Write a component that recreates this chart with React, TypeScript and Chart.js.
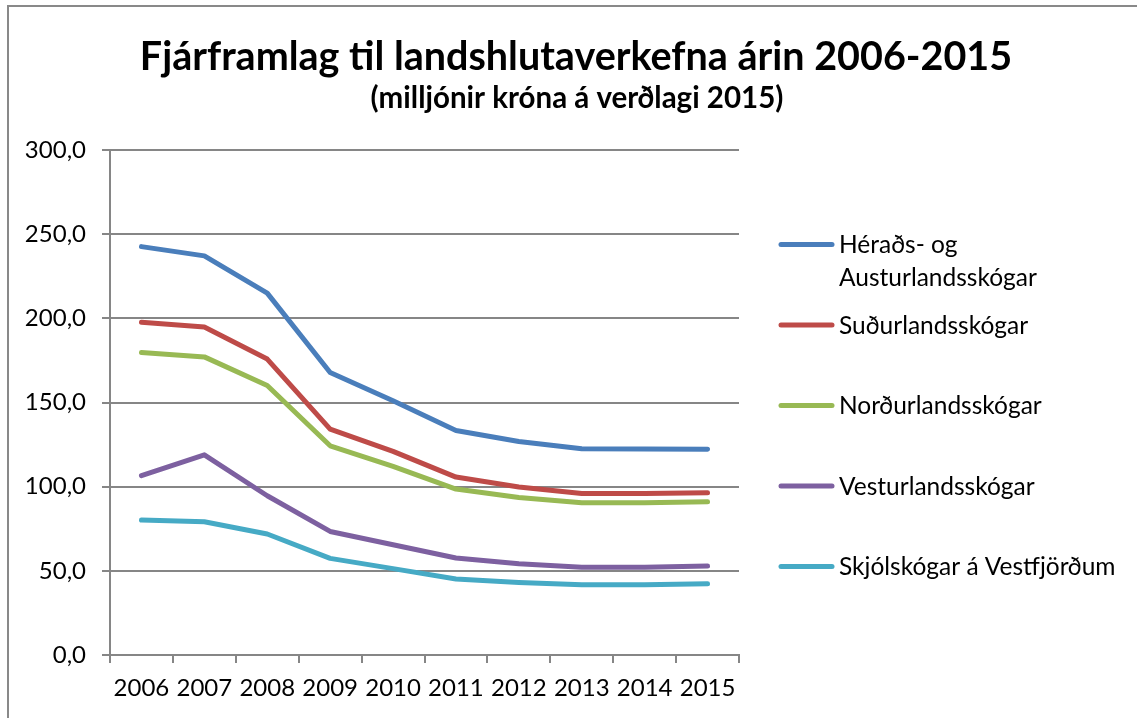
import React, { useEffect, useRef } from "react";
import { Chart, registerables } from "chart.js";

Chart.register(...registerables);

const years = ["2006", "2007", "2008", "2009", "2010", "2011", "2012", "2013", "2014", "2015"];
const heradsAustur = [242.6, 237.1, 215.0, 167.8, 151.0, 133.4, 126.8, 122.5, 122.4, 122.3];
const sudurland = [197.7, 194.8, 175.8, 134.2, 121.0, 105.7, 99.8, 96.0, 96.0, 96.4];
const nordurland = [179.7, 177.1, 160.1, 124.3, 112.0, 98.6, 93.6, 90.4, 90.4, 91.0];
const vesturland = [106.5, 118.9, 94.6, 73.4, 65.5, 57.6, 54.2, 52.2, 52.2, 52.8];
const skjolskogar = [80.2, 79.2, 71.9, 57.4, 51.3, 45.1, 43.1, 41.7, 41.7, 42.3];

const seriesNames = [
  "Héraðs- og\nAusturlandsskógar",
  "Suðurlandsskógar",
  "Norðurlandsskógar",
  "Vesturlandsskógar",
  "Skjólskógar á Vestfjörðum",
];
const seriesColors = ["#4A7EBB", "#BE4B48", "#98B954", "#7D60A0", "#46AAC5"];
const yTickLabels = ["0,0", "50,0", "100,0", "150,0", "200,0", "250,0", "300,0"];

const titleText = "Fjárframlag til landshlutaverkefna árin 2006-2015";
const subtitleText = "(milljónir króna á verðlagi 2015)";

const FONT = "Lato";
const GRID = "#868686";

const overlayPlugin = {
  id: "overlay",
  afterDraw(chart: any) {
    const ctx = chart.ctx;
    ctx.save();
    ctx.fillStyle = "#000";
    ctx.textAlign = "center";
    ctx.textBaseline = "alphabetic";
    ctx.font = `bold 39.5px ${FONT}`;
    ctx.fillText(titleText, 576, 70);
    ctx.font = `bold 29.5px ${FONT}`;
    ctx.fillText(subtitleText, 577, 108);

    // legend
    ctx.textAlign = "left";
    ctx.font = `24.5px ${FONT}`;
    chart.data.datasets.forEach((ds: any, i: number) => {
      const y = 244.5 + i * 80.5;
      ctx.strokeStyle = ds.borderColor;
      ctx.lineWidth = 5;
      ctx.lineCap = "round";
      ctx.beginPath();
      ctx.moveTo(781, y);
      ctx.lineTo(832, y);
      ctx.stroke();
      const lines = seriesNames[i].split("\n");
      lines.forEach((ln, j) => {
        ctx.fillText(ln, 839, y + 8.5 + j * 32.7);
      });
    });
    ctx.restore();
  },
};

export default function App() {
  const ref = useRef<HTMLCanvasElement | null>(null);
  useEffect(() => {
    if (!ref.current) return;
    const seriesValues = [heradsAustur, sudurland, nordurland, vesturland, skjolskogar];
    const chart = new Chart(ref.current, {
      type: "line",
      data: {
        labels: years,
        datasets: seriesValues.map((vals, i) => ({
          label: seriesNames[i].replace("\n", " "),
          data: vals,
          borderColor: seriesColors[i],
          backgroundColor: seriesColors[i],
          borderWidth: 5,
          pointRadius: 0,
          tension: 0,
          borderCapStyle: "round" as const,
          borderJoinStyle: "round" as const,
        })),
      },
      options: {
        responsive: false,
        animation: false,
        devicePixelRatio: 1,
        layout: { padding: { top: 150, right: 398, left: 0, bottom: 12 } },
        plugins: {
          legend: { display: false },
          title: { display: false },
          tooltip: { enabled: false },
        },
        scales: {
          x: {
            offset: true,
            grid: {
              offset: true,
              drawOnChartArea: false,
              drawTicks: true,
              tickLength: 8,
              color: GRID,
              lineWidth: 2,
            },
            border: { display: true, color: GRID, width: 2 },
            ticks: {
              color: "#000",
              font: { family: FONT, size: 24 },
              padding: 11,
              maxRotation: 0,
              autoSkip: false,
            },
            afterFit(scale: any) {
              scale.height = 51;
            },
          },
          y: {
            min: 0,
            max: 300,
            grid: {
              color: GRID,
              lineWidth: 2,
              drawTicks: true,
              tickLength: 8,
            },
            border: { display: true, color: GRID, width: 2 },
            ticks: {
              stepSize: 50,
              color: "#000",
              font: { family: FONT, size: 24 },
              padding: 16,
              callback: (_v: any, idx: number) => yTickLabels[idx],
            },
            afterFit(scale: any) {
              scale.width = 110;
            },
          },
        },
      },
      plugins: [overlayPlugin],
    });
    return () => chart.destroy();
  }, []);

  return (
    <div>
      <canvas
        ref={ref}
        width={1137}
        height={718}
        style={{ position: "fixed", left: 0, top: 0, width: 1137, height: 718 }}
      />
      <div
        style={{
          position: "fixed",
          left: 7,
          top: 5,
          right: -20,
          bottom: -20,
          border: "2px solid #898989",
          pointerEvents: "none",
        }}
      />
    </div>
  );
}
